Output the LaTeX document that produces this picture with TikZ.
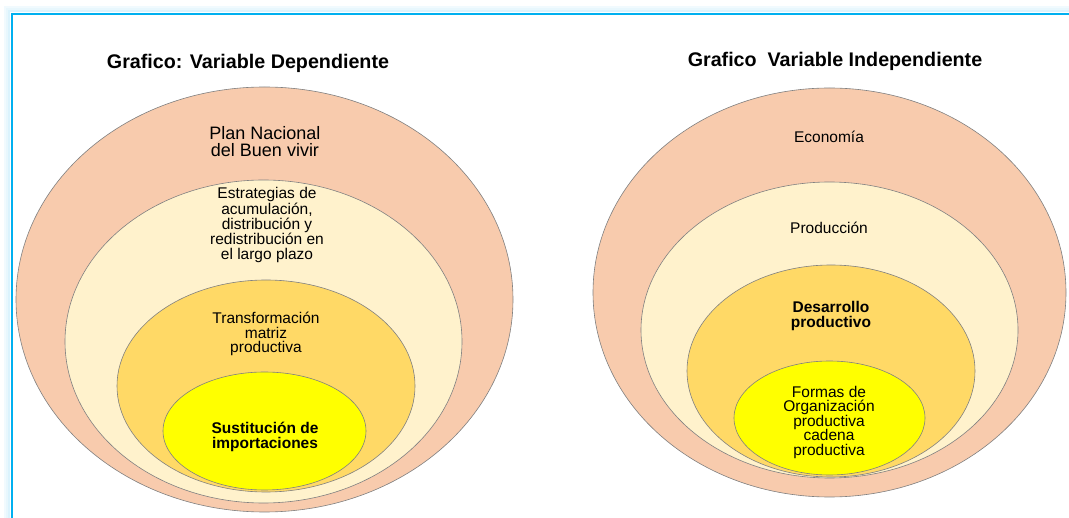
\documentclass[tikz,border=0pt]{standalone}
\usepackage{fontspec}
\setmainfont{Liberation Sans}
\definecolor{rosa}{HTML}{F8CBAD}
\definecolor{crema}{HTML}{FFF2CC}
\definecolor{dorado}{HTML}{FFD966}
\definecolor{amarillo}{HTML}{FFFF00}
\definecolor{marco}{HTML}{00B0F0}
\definecolor{borde}{HTML}{808080}

\tikzset{
  ring/.style={draw=borde, line width=0.6pt},
  texto/.style={align=center, font=\fontsize{15.5}{14.5}\selectfont, inner sep=0pt},
  titulo/.style={font=\fontsize{19.7}{22}\selectfont\bfseries, inner sep=0pt, anchor=base}
}

\begin{document}
\begin{tikzpicture}[x=1pt,y=-1pt]
  \useasboundingbox (0,0) rectangle (1069,518);
  \fill[white] (0,0) rectangle (1069,518);
  % marco
  \foreach \d/\o in {7/0.15,5/0.25,3/0.4}
    \draw[line width=2.5pt, marco!35, opacity=\o] (12-\d,518) -- (12-\d,14-\d) -- (1069,14-\d);
  \draw[line width=2pt, marco] (12,518) -- (12,14) -- (1069,14);

  % variable dependiente
  \node[titulo] (titA) at (248,69) {Grafico: Variable Dependiente};
  \draw[ring, fill=rosa] (264.5,299.5) ellipse [x radius=248.5, y radius=212.5];
  \draw[ring, fill=crema] (263.5,341.5) ellipse [x radius=198.5, y radius=161.5];
  \draw[ring, fill=dorado] (266,386) ellipse [x radius=149, y radius=106];
  \draw[ring, fill=amarillo] (264.5,431) ellipse [x radius=101.5, y radius=59];
  \node[texto, font=\fontsize{18}{17}\selectfont] (plan) at (265,142) {Plan Nacional\\del Buen vivir};
  \node[texto] (estr) at (267,225) {Estrategias de\\acumulación,\\distribución y\\redistribución en\\el largo plazo};
  \node[texto] (trans) at (266,334) {Transformación\\matriz\\productiva};
  \node[texto, font=\fontsize{15.5}{14.5}\selectfont\bfseries] (sust) at (265,437) {Sustitución de\\importaciones};

  % variable independiente
  \node[titulo] (titB) at (835,67) {Grafico\ \ Variable Independiente};
  \draw[ring, fill=rosa] (829.5,292.5) ellipse [x radius=236.5, y radius=204.5];
  \draw[ring, fill=crema] (829.5,330) ellipse [x radius=188.5, y radius=148];
  \draw[ring, fill=dorado] (831,371) ellipse [x radius=144, y radius=106];
  \draw[ring, fill=amarillo] (829.5,418) ellipse [x radius=95.5, y radius=57];
  \node[texto] (econ) at (829,137) {Economía};
  \node[texto] (prod) at (829,228) {Producción};
  \node[texto, font=\fontsize{15.5}{14.5}\selectfont\bfseries] (desa) at (831,316) {Desarrollo\\productivo};
  \node[texto] (form) at (829,422) {Formas de\\Organización\\productiva\\cadena\\productiva};
\end{tikzpicture}
\end{document}
